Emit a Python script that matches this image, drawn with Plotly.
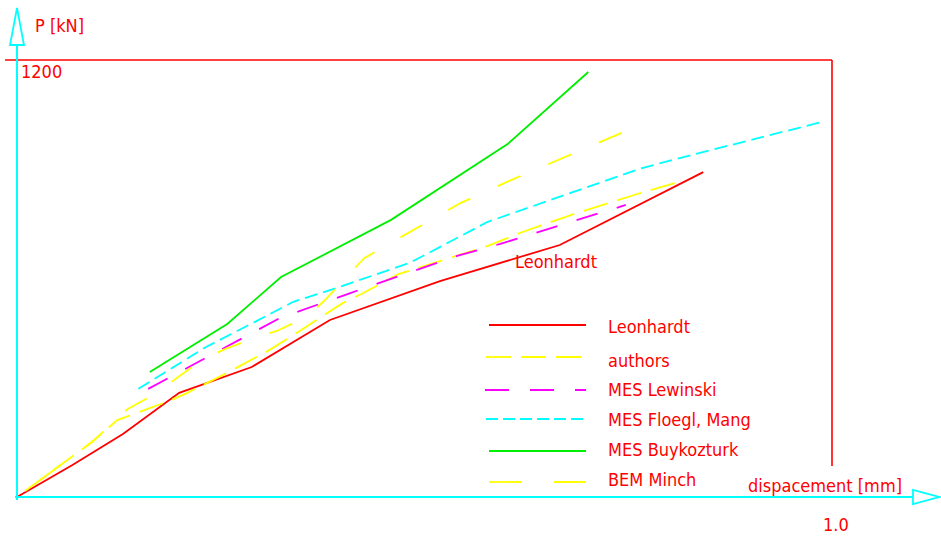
import plotly.graph_objects as go

# ---------------- data (displacement [mm], P [kN]) ----------------
leon_x = [0, 0.068, 0.130, 0.199, 0.288, 0.384, 0.519, 0.666, 0.842]
leon_y = [0, 88, 173, 286, 357, 486, 593, 692, 892]

auth_x = [0, 0.092, 0.123, 0.187, 0.209, 0.258, 0.310, 0.347, 0.400, 0.425,
          0.468, 0.497, 0.577, 0.617, 0.687, 0.761, 0.807]
auth_y = [0, 151, 211, 264, 286, 341, 404, 456, 533, 560,
          612, 632, 689, 725, 780, 832, 862]

lew_x = [0.161, 0.232, 0.304, 0.323, 0.409, 0.540, 0.593, 0.747]
lew_y = [297, 382, 467, 492, 560, 662, 695, 802]

flo_x = [0.149, 0.232, 0.292, 0.339, 0.384, 0.482, 0.577, 0.768, 0.838, 0.933, 0.988]
flo_y = [297, 412, 481, 536, 568, 643, 755, 904, 945, 1000, 1030]

buy_x = [0.163, 0.258, 0.324, 0.459, 0.602, 0.701]
buy_y = [343, 475, 604, 761, 969, 1167]

bem_x = [0, 0.092, 0.136, 0.172, 0.196, 0.231, 0.255, 0.301, 0.319, 0.357,
         0.378, 0.426, 0.483, 0.544, 0.607, 0.671, 0.742]
bem_y = [0, 151, 242, 286, 327, 382, 406, 445, 456, 497,
         541, 656, 730, 807, 871, 931, 1000]

series_names = ["Leonhardt", "authors", "MES Lewinski", "MES Floegl, Mang",
                "MES Buykozturk", "BEM Minch"]
x_max_label = "1.0"
y_max_label = "1200"

# ---------------- styling ----------------
W, H = 941, 536
FONT = "Liberation Sans Narrow, DejaVu Sans Condensed, Arial Narrow, sans-serif"
FS = 18
RED, YEL, MAG, CYA, GRN = "#ff0000", "#ffff00", "#ff00ff", "#00ffff", "#00ee00"

# (colour, chart dash, legend dash, draw from the upper end)
styles = [
    (RED, "solid", "solid", False),
    (YEL, "25px,10px", "25px,10px", True),
    (MAG, "22px,20px", "24px,21px", False),
    (CYA, "13px,6px", "12px,5px", False),
    (GRN, "solid", "solid", False),
    (YEL, "25px,30px", "33px,32px", True),
]
data = [(leon_x, leon_y), (auth_x, auth_y), (lew_x, lew_y),
        (flo_x, flo_y), (buy_x, buy_y), (bem_x, bem_y)]

fig = go.Figure()
for (xs, ys), name, (col, dash, _, rev) in zip(data, series_names, styles):
    if rev:
        xs, ys = xs[::-1], ys[::-1]
    fig.add_trace(go.Scatter(x=xs, y=ys, mode="lines", name=name,
                             line=dict(color=col, width=1.8, dash=dash),
                             showlegend=False, hoverinfo="skip"))

def px(x):
    return x / W

def py(y):
    return 1 - y / H

shapes = []
def seg(x0, y0, x1, y1, col, w=1.8, dash="solid"):
    shapes.append(dict(type="line", xref="paper", yref="paper",
                       x0=px(x0), y0=py(y0), x1=px(x1), y1=py(y1),
                       line=dict(color=col, width=w, dash=dash)))

def path(pts, col, w=1.8):
    d = "M " + " L ".join(f"{px(a):.5f},{py(b):.5f}" for a, b in pts) + " Z"
    shapes.append(dict(type="path", xref="paper", yref="paper", path=d,
                       line=dict(color=col, width=w)))

# frame
seg(5, 60, 832, 60, RED, 1.6)
seg(832, 60, 832, 466, RED, 1.6)
# axes with open arrow heads
seg(17, 500, 17, 45, CYA, 2)
path([(10, 45), (24, 45), (17, 8)], CYA, 1.8)
seg(15, 497, 913, 497, CYA, 2)
path([(913, 490), (913, 504), (939, 497)], CYA, 1.8)

# legend samples
leg_y = [325, 357, 390, 419, 451, 482]
leg_x0 = [489, 486, 485, 486, 489, 489]
for yv, x0, (col, _, ldash, _r) in zip(leg_y, leg_x0, styles):
    seg(x0, yv, 586, yv, col, 1.8, ldash)

ann = []
def text(t, x, y, size=FS):
    ann.append(dict(text=t, x=px(x), y=py(y), xref="paper", yref="paper",
                    xanchor="left", yanchor="middle", showarrow=False,
                    font=dict(family=FONT, size=size, color=RED)))

text("P [kN]", 33, 25)
text(y_max_label, 19, 72)
text("dispacement [mm]", 746, 485)
text(x_max_label, 821, 524)
text("Leonhardt", 513, 261)
leg_ty = [326, 360, 389, 419, 449, 479]
for name, yv in zip(series_names, leg_ty):
    text(name, 606, yv)

x0_px, x1_px = 17, 832
y0_px, y1_px = 497, 60
xs_per_px = 1.0 / (x1_px - x0_px)
ys_per_px = 1200 / (y0_px - y1_px)

fig.update_layout(
    width=W, height=H, margin=dict(l=0, r=0, t=0, b=0),
    paper_bgcolor="white", plot_bgcolor="white",
    xaxis=dict(range=[-x0_px * xs_per_px, (W - x0_px) * xs_per_px],
               visible=False, fixedrange=True),
    yaxis=dict(range=[-(H - y0_px) * ys_per_px, y0_px * ys_per_px],
               visible=False, fixedrange=True),
    shapes=shapes, annotations=ann, showlegend=False,
)
fig.write_html(
    "out.html", config={"displayModeBar": False},
    post_script="document.body.style.margin='0';document.body.style.overflow='hidden';",
)
